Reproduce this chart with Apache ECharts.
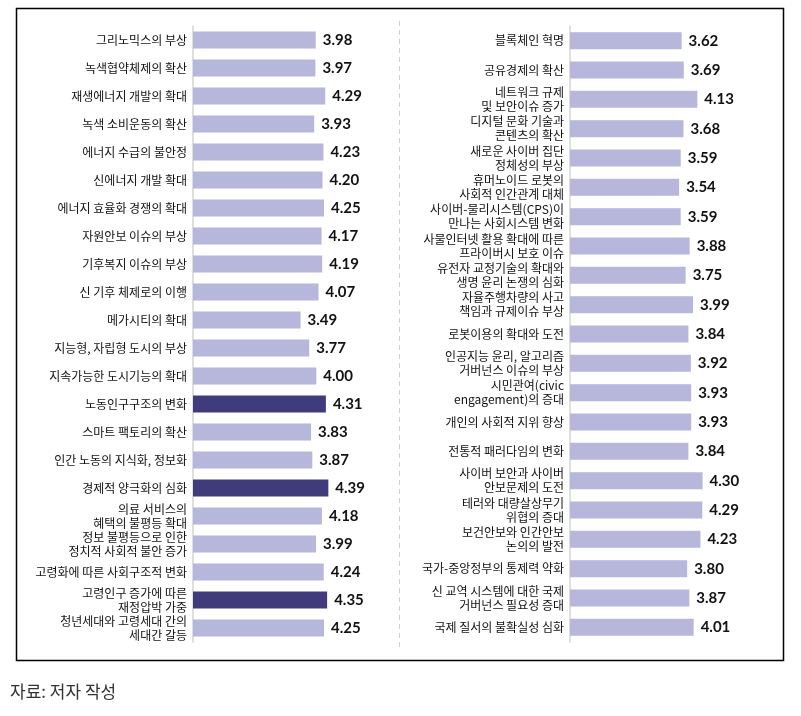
<!DOCTYPE html>
<html><head><meta charset="utf-8">
<script src="https://cdn.jsdelivr.net/npm/echarts@6/dist/echarts.min.js"></script>
<style>html,body{margin:0;padding:0;background:#fff}#c{width:801px;height:716px}</style>
</head><body><div id="c"></div>
<script>
const leftCategories = [
  '그리노믹스의 부상','녹색협약체제의 확산','재생에너지 개발의 확대','녹색 소비운동의 확산',
  '에너지 수급의 불안정','신에너지 개발 확대','에너지 효율화 경쟁의 확대','자원안보 이슈의 부상',
  '기후복지 이슈의 부상','신 기후 체제로의 이행','메가시티의 확대','지능형, 자립형 도시의 부상',
  '지속가능한 도시기능의 확대','노동인구구조의 변화','스마트 팩토리의 확산','인간 노동의 지식화, 정보화',
  '경제적 양극화의 심화','의료 서비스의\n혜택의 불평등 확대','정보 불평등으로 인한\n정치적 사회적 불안 증가',
  '고령화에 따른 사회구조적 변화','고령인구 증가에 따른\n재정압박 가중','청년세대와 고령세대 간의\n세대간 갈등'
];
const leftValues = [3.98,3.97,4.29,3.93,4.23,4.20,4.25,4.17,4.19,4.07,3.49,3.77,4.00,4.31,3.83,3.87,4.39,4.18,3.99,4.24,4.35,4.25];
const leftHighlight = ['노동인구구조의 변화','경제적 양극화의 심화','고령인구 증가에 따른\n재정압박 가중'];

const rightCategories = [
  '블록체인 혁명','공유경제의 확산','네트워크 규제\n및 보안이슈 증가','디지털 문화 기술과\n콘텐츠의 확산',
  '새로운 사이버 집단\n정체성의 부상','휴머노이드 로봇의\n사회적 인간관계 대체','사이버-물리시스템(CPS)이\n만나는 사회시스템 변화',
  '사물인터넷 활용 확대에 따른\n프라이버시 보호 이슈','유전자 교정기술의 확대와\n생명 윤리 논쟁의 심화',
  '자율주행차량의 사고\n책임과 규제이슈 부상','로봇이용의 확대와 도전','인공지능 윤리, 알고리즘\n거버넌스 이슈의 부상',
  '시민관여(civic\nengagement)의 증대','개인의 사회적 지위 향상','전통적 패러다임의 변화',
  '사이버 보안과 사이버\n안보문제의 도전','테러와 대량살상무기\n위협의 증대','보건안보와 인간안보\n논의의 발전',
  '국가-중앙정부의 통제력 약화','신 교역 시스템에 대한 국제\n거버넌스 필요성 증대','국제 질서의 불확실성 심화'
];
const rightValues = [3.62,3.69,4.13,3.68,3.59,3.54,3.59,3.88,3.75,3.99,3.84,3.92,3.93,3.93,3.84,4.30,4.29,4.23,3.80,3.87,4.01];
const sourceText = '자료: 저자 작성';

const LIGHT = '#b7b6db', DARK = '#403c7c';
const chart = echarts.init(document.getElementById('c'), null, {renderer:'canvas'});

function catAxis(idx, cats){
  return {
    type:'category', gridIndex:idx, data:cats, inverse:true,
    axisLine:{show:true, lineStyle:{color:'#d4d4d4', width:1.5}},
    axisTick:{show:false},
    axisLabel:{color:'#111', fontSize:12, fontFamily:'Noto Sans CJK KR', lineHeight:14, margin:6, interval:0}
  };
}
function valAxis(idx){
  return {type:'value', gridIndex:idx, min:0, max:6, show:false, splitLine:{show:false}};
}
const labelCfg = {
  show:true, position:'right', distance:7,
  fontFamily:'Lato', fontWeight:'bold', fontSize:15, color:'#111',
  formatter: p => p.value.toFixed(2)
};

chart.setOption({
  animation:false,
  grid:[
    {left:193, top:26, width:185, height:616},
    {left:570, top:26, width:185, height:616}
  ],
  xAxis:[valAxis(0), valAxis(1)],
  yAxis:[catAxis(0,leftCategories), catAxis(1,rightCategories)],
  series:[
    {type:'bar', xAxisIndex:0, yAxisIndex:0, barWidth:17, label:labelCfg,
     data:leftValues.map((v,i)=>({value:v, itemStyle:{color: leftHighlight.includes(leftCategories[i]) ? DARK : LIGHT}}))},
    {type:'bar', xAxisIndex:1, yAxisIndex:1, barWidth:17, label:labelCfg,
     data:rightValues.map(v=>({value:v, itemStyle:{color:LIGHT}}))}
  ],
  graphic:[
    {type:'rect', shape:{x:16.5, y:8.5, width:767, height:652}, style:{fill:null, stroke:'#000', lineWidth:1.5}, silent:true},
    {type:'line', shape:{x1:399.5, y1:21, x2:399.5, y2:648}, style:{stroke:'#d0d0d0', lineWidth:1, lineDash:[5,4]}, silent:true},
    {type:'text', left:10, top:683, style:{text:sourceText, fontSize:17, fontFamily:'Noto Sans CJK KR', fill:'#333'}}
  ]
});
</script></body></html>
